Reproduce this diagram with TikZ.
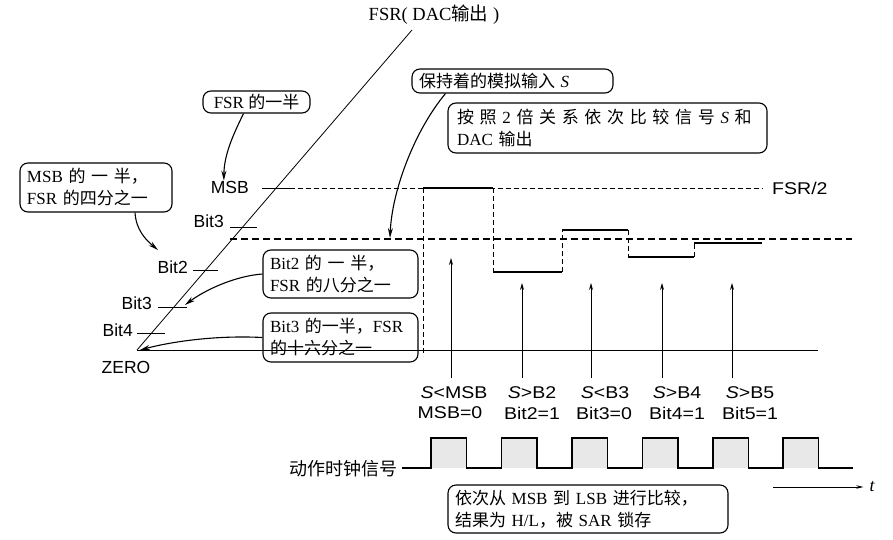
\documentclass[tikz,border=0pt]{standalone}
\usepackage{fontspec}
\setmainfont{Liberation Serif}
\newfontfamily\lsans{Liberation Sans}
\newfontfamily\lsanswide[FakeStretch=1.15]{Liberation Sans}
\newfontfamily\cjk{Noto Sans CJK SC}
\usetikzlibrary{arrows.meta}
\newcommand\zh[1]{{\cjk #1}}
\begin{document}
\begin{tikzpicture}[x=1pt,y=-1pt,
  bubble/.style={draw, line width=1.1pt, rounded corners=8pt, font=\fontsize{17}{22}\selectfont, inner xsep=7pt, inner ysep=4pt, align=left},
  lbl/.style={font=\lsans\fontsize{17.5}{20}\selectfont, inner sep=0pt},
  wlbl/.style={font=\lsanswide\fontsize{17}{20}\selectfont, inner sep=0pt},
  thinline/.style={line width=0.8pt},
  tk/.style={line width=0.9pt},
  dashthin/.style={line width=0.8pt, dash pattern=on 5pt off 3pt},
  dashthick/.style={line width=1.6pt, dash pattern=on 7pt off 4pt},
  level/.style={line width=1.6pt},
  callout/.style={line width=1.1pt, -{Stealth[length=10pt,width=5pt]}},
  uparrow/.style={line width=0.8pt, -{Stealth[length=7pt,width=4pt]}},
  clock/.style={line width=1.6pt}
]
\useasboundingbox (0,0) rectangle (893,540);

% top label
\node[font=\fontsize{18.5}{20}\selectfont, inner sep=0pt] (fsrtop) at (434,15) {FSR( DAC\zh{输出} )};

% axes
\coordinate (zero) at (137,350);
\coordinate (diagtop) at (412,30);
\coordinate (baseend) at (818,350);
\draw[thinline] (zero) -- (diagtop);
\draw[thinline] (zero) -- (baseend);

% ticks
\coordinate (tmA) at (262,188); \coordinate (tmB) at (290,188);
\coordinate (t3aA) at (230,227); \coordinate (t3aB) at (257,227);
\coordinate (t2A) at (193,270); \coordinate (t2B) at (218,270);
\coordinate (t3bA) at (158,307); \coordinate (t3bB) at (187,307);
\coordinate (t4A) at (137,333); \coordinate (t4B) at (165,333);
\draw[tk] (tmA) -- (tmB) (t3aA) -- (t3aB) (t2A) -- (t2B) (t3bA) -- (t3bB) (t4A) -- (t4B);

% FSR/2 dashed line and S level
\coordinate (fsr2end) at (763,188);
\draw[dashthin] (tmB) -- (fsr2end);
\node[wlbl, anchor=west] (fsr2) at (772,188) {FSR/2};
\coordinate (sA) at (230,239); \coordinate (sB) at (852,239);
\draw[dashthick] (sA) -- (sB);

% tick labels
\node[lbl,anchor=east] (lmsb) at (249,187) {MSB};
\node[lbl,anchor=east] (lbit3a) at (224,221) {Bit3};
\node[lbl,anchor=east] (lbit2) at (188,267) {Bit2};
\node[lbl,anchor=east] (lbit3b) at (152,303) {Bit3};
\node[lbl,anchor=east] (lbit4) at (133,330) {Bit4};
\node[lbl] (lzero) at (126,367) {ZERO};

% staircase
\coordinate (s0) at (423,188); \coordinate (s1) at (493,188);
\coordinate (s2) at (493,272); \coordinate (s3) at (562,272);
\coordinate (s4) at (562,230); \coordinate (s5) at (628,230);
\coordinate (s6) at (628,257); \coordinate (s7) at (694,257);
\coordinate (s8) at (694,243); \coordinate (s9) at (762,243);
\coordinate (vbot) at (423,356);
\draw[dashthin] (s0) -- (vbot);
\draw[dashthin] (s1) -- (s2) (s3) -- (s4) (s5) -- (s6) (s7) -- (s8);
\draw[level] (s0) -- (s1) (s2) -- (s3) (s4) -- (s5) (s6) -- (s7) (s8) -- (s9);

% up arrows
\coordinate (ua1) at (451,378); \coordinate (ut1) at (451,258);
\coordinate (ua2) at (522,378); \coordinate (ut2) at (522,283);
\coordinate (ua3) at (591,378); \coordinate (ut3) at (591,283);
\coordinate (ua4) at (662,378); \coordinate (ut4) at (662,283);
\coordinate (ua5) at (732,378); \coordinate (ut5) at (732,283);
\draw[uparrow] (ua1) -- (ut1);
\draw[uparrow] (ua2) -- (ut2);
\draw[uparrow] (ua3) -- (ut3);
\draw[uparrow] (ua4) -- (ut4);
\draw[uparrow] (ua5) -- (ut5);

% comparison labels
\node[wlbl] (c1) at (454,393) {\textit{S}<MSB};
\node[wlbl] (c2) at (532,393) {\textit{S}>B2};
\node[wlbl] (c3) at (605,393) {\textit{S}<B3};
\node[wlbl] (c4) at (677,393) {\textit{S}>B4};
\node[wlbl] (c5) at (750,393) {\textit{S}>B5};
\node[wlbl] (b1) at (450,413) {MSB=0};
\node[wlbl] (b2) at (532,413) {Bit2=1};
\node[wlbl] (b3) at (604,413) {Bit3=0};
\node[wlbl] (b4) at (677,413) {Bit4=1};
\node[wlbl] (b5) at (750,413) {Bit5=1};

% clock
\foreach \r in {431,501.5,572,642.5,713,783} {
  \fill[gray!18] (\r,438) rectangle (\r+35.5,468);
}
\coordinate (ck0) at (402,468);
\coordinate (ckend) at (853,468);
\draw[clock, line join=miter] (ck0) foreach \r in {431,501.5,572,642.5,713,783} { -- (\r,468) -- (\r,438) -- (\r+35.5,438) -- (\r+35.5,468) } -- (ckend);
\node[font=\cjk\fontsize{18}{20}\selectfont, anchor=east, inner sep=0pt] (cklbl) at (398,469) {动作时钟信号};

% time arrow
\coordinate (t0) at (773,487);
\node[font=\itshape\fontsize{18}{20}\selectfont, inner sep=0pt] (tl) at (872,487) {t};
\draw[thinline, -{Stealth[length=7pt,width=3.5pt]}, shorten >=6pt] (t0) -- (tl.west);

% bubbles
\node[bubble, align=center, minimum width=107pt, minimum height=22pt, inner ysep=2pt] (fsrhalf) at (256.5,102) {FSR \zh{的一半}};
\node[bubble, text width=138pt, minimum height=49pt] (msbhalf) at (96,187.5) {\makebox[128pt][s]{MSB \zh{的} \zh{一} \zh{半，}}\\FSR \zh{的四分之一}};
\node[bubble, text width=141pt, minimum height=48pt] (b2h) at (340.5,274) {\makebox[132pt][s]{Bit2 \zh{的} \zh{一} \zh{半，}}\\FSR \zh{的八分之一}};
\node[bubble, text width=141pt, minimum height=49pt] (b3h) at (340.5,337.5) {Bit3 \zh{的一半，}FSR\\\zh{的十六分之一}};
\node[bubble, text width=187pt, minimum height=24pt, inner ysep=2pt] (held) at (512.5,81) {\zh{保持着的模拟输入} \textit{S}};
\node[bubble, text width=301pt, inner xsep=9pt, minimum height=50pt] (cmp) at (607.5,128) {\makebox[299pt][s]{\zh{按} \zh{照} 2 \zh{倍} \zh{关} \zh{系} \zh{依} \zh{次} \zh{比} \zh{较} \zh{信} \zh{号} \textit{S} \zh{和}}\\DAC \zh{输出}};
\node[bubble, text width=266pt, minimum height=48pt] (note) at (588,509) {\makebox[266pt][s]{\zh{依次从} MSB \zh{到} LSB \zh{进行比较，}}\\\zh{结果为} H/L\zh{，被} SAR \zh{锁存}};

% callouts
\coordinate (p2) at (158,250);
\coordinate (p3) at (185,305);
\coordinate (pS) at (390,238);
\draw[callout] ([xshift=-13pt]fsrhalf.south) .. controls (233,135) and (224,155) .. ([xshift=-6pt]lmsb.north);
\draw[callout] ([xshift=39pt]msbhalf.south) .. controls (136,230) and (146,240) .. (p2);
\draw[callout] (b2h.west) .. controls (235,276) and (205,290) .. (p3);
\draw[callout] (b3h.west) .. controls (215,335) and (170,342) .. ([xshift=3pt]zero);
\draw[callout] ([xshift=-67pt]held.south) .. controls (415,130) and (392,190) .. (pS);
\end{tikzpicture}
\end{document}
